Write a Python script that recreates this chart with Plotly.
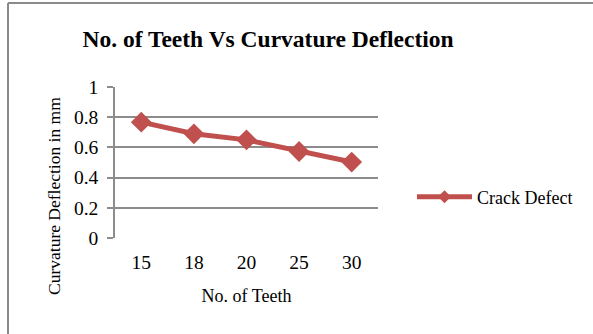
import plotly.graph_objects as go

# Data
teeth = ["15", "18", "20", "25", "30"]
crack_defect = [0.767, 0.69, 0.65, 0.573, 0.503]
y_ticks = [0, 0.2, 0.4, 0.6, 0.8, 1]
y_tick_text = ["0", "0.2", "0.4", "0.6", "0.8", "1"]

RED = "#C0504D"
GRID = "#8C8C8C"
SERIF = "Liberation Serif, Times New Roman, serif"

W, H = 593, 334
L, R, T, B = 115, 215, 87, 96
pw, ph = W - L - R, H - T - B


def px_x(v):
    return (v - L) / pw


def px_y(v):
    return (H - B - v) / ph


fig = go.Figure()
fig.add_trace(go.Scatter(
    x=teeth, y=crack_defect, mode="lines+markers", name="Crack Defect",
    line=dict(color=RED, width=5),
    marker=dict(symbol="diamond", size=16, color=RED),
    showlegend=False, legendgroup="crack",
))
# legend entry with a smaller diamond
fig.add_trace(go.Scatter(
    x=[None], y=[None], mode="lines+markers", name="Crack Defect",
    line=dict(color=RED, width=5),
    marker=dict(symbol="diamond", size=10, color=RED),
    legendgroup="crack",
))

# outer chart frame (left and top edges)
fig.add_shape(type="line", xref="paper", yref="paper",
              x0=px_x(8), x1=px_x(8), y0=px_y(3), y1=px_y(340),
              line=dict(color="#8A8A8A", width=2))
fig.add_shape(type="line", xref="paper", yref="paper",
              x0=px_x(8), x1=px_x(600), y0=px_y(3), y1=px_y(3),
              line=dict(color="#8A8A8A", width=2))

# vertical axis title, sitting a little below the plot's mid-height
fig.add_annotation(text="Curvature Deflection in mm", textangle=-90,
                   xref="paper", yref="paper", x=px_x(54), y=px_y(196),
                   xanchor="center", yanchor="middle", showarrow=False,
                   font=dict(size=17.5, family=SERIF, color="black"))

fig.update_layout(
    width=W, height=H,
    margin=dict(l=L, r=R, t=T, b=B),
    paper_bgcolor="white", plot_bgcolor="white",
    font=dict(family=SERIF, color="black"),
    title=dict(text="<b>No. of Teeth Vs Curvature Deflection</b>",
               x=px_x(268), xref="paper", xanchor="center",
               y=1 - 39 / H, yanchor="middle",
               font=dict(size=23.5, family=SERIF, color="black")),
    xaxis=dict(type="category", range=[-0.5, 4.5],
               showgrid=False, showline=False, zeroline=False,
               ticks="", ticklabelstandoff=10,
               tickfont=dict(size=19.5, family=SERIF),
               title=dict(text="No. of Teeth", font=dict(size=18, family=SERIF),
                          standoff=17)),
    yaxis=dict(range=[0, 1], tickvals=y_ticks, ticktext=y_tick_text,
               showgrid=True, gridcolor=GRID, gridwidth=1.6,
               showline=True, linecolor=GRID, linewidth=1.6,
               zeroline=False,
               ticks="outside", ticklen=6, tickcolor=GRID, tickwidth=1.6,
               ticklabelstandoff=5,
               tickfont=dict(size=19.5, family=SERIF)),
    showlegend=True,
    legend=dict(x=px_x(412), y=px_y(197), xanchor="left", yanchor="middle",
                xref="paper", yref="paper",
                font=dict(size=18, family=SERIF), itemwidth=55,
                bgcolor="rgba(0,0,0,0)"),
)

fig.write_html("out.html")
